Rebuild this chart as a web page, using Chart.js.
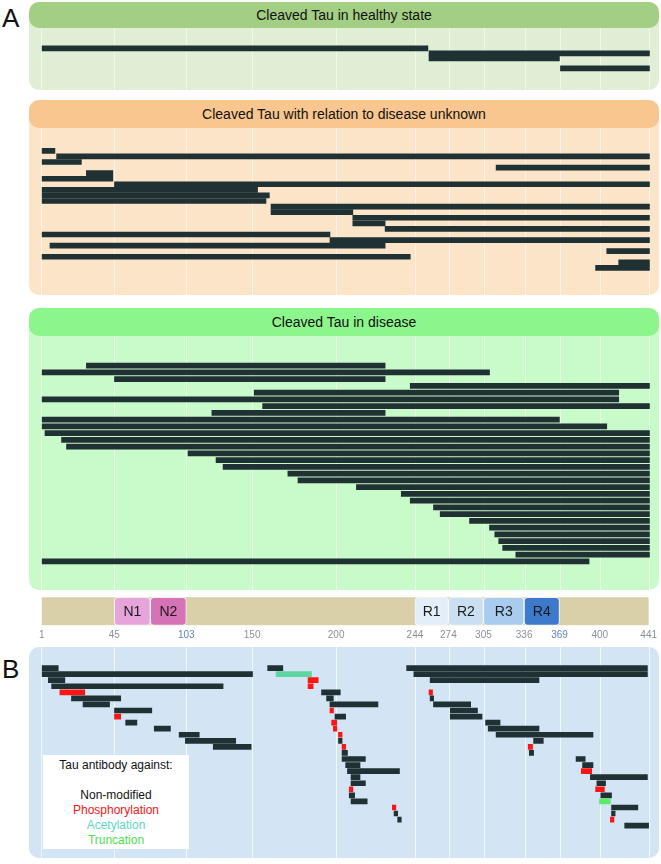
<!DOCTYPE html>
<html>
<head>
<meta charset="utf-8">
<title>Cleaved Tau fragments</title>
<script src="https://cdn.jsdelivr.net/npm/chart.js@4.4.1/dist/chart.umd.min.js"></script>
<style>
  body { margin: 0; background: #fff; }
  #page { position: relative; width: 661px; height: 864px; overflow: hidden; font-family: 'Liberation Sans', Arial, sans-serif; color: #111; }
  .box { position: absolute; left: 29px; width: 630px; border-radius: 10px; }
  .hdr { position: absolute; left: 0; right: 0; top: 0; border-radius: 10px; text-align: center; font-size: 14px; }
  .tag { position: absolute; left: 2px; font-size: 26px; line-height: 26px; }
  canvas { position: absolute; left: 0; }
  #legend { position: absolute; left: 43px; top: 755px; width: 146px; height: 94px; box-sizing: border-box; padding-top: 2.5px;
            background: #fff; text-align: center; font-size: 12px; line-height: 15px; }
</style>
</head>
<body>
<div id="page">
  <div class="tag" style="top:4.7px">A</div>
  <div class="box" style="top:2px;height:88px;background:#e1eed6">
    <div class="hdr" style="height:26px;line-height:26px;background:#a3cf84">Cleaved Tau in healthy state</div>
  </div>
  <div class="box" style="top:100px;height:195px;background:#fce4c8">
    <div class="hdr" style="height:28px;line-height:28px;background:#f8c68e">Cleaved Tau with relation to disease unknown</div>
  </div>
  <div class="box" style="top:308px;height:282px;background:#c9fac9">
    <div class="hdr" style="height:28px;line-height:28px;background:#8cf68c">Cleaved Tau in disease</div>
  </div>
  <canvas id="healthy" width="661" height="62" style="top:28px"></canvas>
  <canvas id="unknown" width="661" height="167" style="top:128px"></canvas>
  <canvas id="disease" width="661" height="254" style="top:336px"></canvas>
  <canvas id="domains" width="661" height="52" style="top:594px"></canvas>

  <div class="tag" style="top:656.3px">B</div>
  <div class="box" style="top:647px;height:211px;background:#d3e4f5"></div>
  <canvas id="antibodies" width="661" height="211" style="top:647px"></canvas>
  <div id="legend">Tau antibody against:<br><br>Non-modified<br><span style="color:#f21616">Phosphorylation</span><br><span style="color:#62d6c6">Acetylation</span><br><span style="color:#4fde4f">Truncation</span></div>
</div>

<script>
// ---- データ (残基番号) ----
const TICK_VALUES = [1, 45, 103, 150, 200, 244, 274, 305, 336, 369, 400, 441];

const DOMAIN_NAMES = ['N1', 'N2', 'R1', 'R2', 'R3', 'R4'];
const DOMAIN_START = [45, 74, 244, 274, 305, 336];
const DOMAIN_END = [74, 103, 274, 305, 336, 369];

// 健常状態での断片
const HEALTHY_START = [1, 256, 256, 369];
const HEALTHY_END = [255, 441, 368, 441];
const HEALTHY_ROW = [0, 1, 2, 4];

// 疾患との関係が不明な断片 (1行に1本)
const UNKNOWN_START = [1, 10, 1, 314, 28, 1, 45, 1, 1, 1, 161, 161, 209, 209, 227, 1, 196, 6, 405, 1, 415, 396];
const UNKNOWN_END = [9, 441, 25, 441, 44, 44, 441, 153, 160, 158, 441, 209, 441, 227, 441, 196, 441, 227, 441, 241, 441, 441];

// 疾患での断片 (1行に1本)
const DISEASE_START = [28, 1, 45, 241, 151, 1, 156, 121, 1, 1, 3, 13, 16, 104, 124, 129, 171, 177, 211, 236,
  241, 260, 266, 292, 309, 313, 316, 319, 329, 1];
const DISEASE_END = [227, 309, 227, 441, 415, 415, 441, 227, 368, 405, 441, 441, 441, 441, 441, 441, 441, 441, 441, 441,
  441, 441, 441, 441, 441, 441, 441, 441, 441, 391];

// B: 抗体のエピトープ (non / phos / acet / trunc)
const B_START = [
  1, 1, 5, 7, 12, 19, 26, 45, 45, 54, 77, 97, 102, 122,
  159, 164, 183, 183, 191, 194, 196, 196, 199, 197, 198, 201, 201, 203, 203, 203, 205, 206, 208, 208, 207, 207, 208, 231, 232, 234,
  239, 243, 257, 256, 257, 260, 275, 275, 306, 308, 314, 344, 339, 340, 381, 386, 385, 392, 397, 396, 400, 399, 409, 409, 408, 420,
];
const B_END = [
  11, 150, 15, 129, 27, 50, 42, 75, 50, 63, 90, 112, 138, 149,
  168, 185, 189, 186, 202, 198, 223, 198, 205, 200, 200, 203, 203, 205, 206, 216, 213, 235, 213, 216, 209, 210, 217, 233, 234, 236,
  439, 439, 349, 259, 260, 293, 299, 303, 317, 349, 394, 353, 343, 344, 388, 394, 393, 439, 404, 403, 409, 408, 431, 412, 411, 440,
];
const B_ROW = [
  0, 1, 2, 3, 4, 5, 6, 7, 8, 9, 10, 11, 12, 13,
  0, 1, 2, 3, 4, 5, 6, 7, 8, 9, 10, 11, 12, 13, 14, 15, 16, 17, 18, 19, 20, 21, 22, 23, 24, 25,
  0, 1, 2, 4, 5, 6, 7, 8, 9, 10, 11, 12, 13, 14, 15, 16, 17, 18, 19, 20, 21, 22, 23, 24, 25, 26,
];
const B_KIND = [
  'non', 'non', 'non', 'non', 'phos', 'non', 'non', 'non', 'phos', 'non', 'non', 'non', 'non', 'non',
  'non', 'acet', 'phos', 'phos', 'non', 'non', 'non', 'phos', 'non', 'phos', 'phos', 'phos', 'non', 'phos', 'non', 'non',
  'non', 'non', 'non', 'non', 'phos', 'non', 'non', 'phos', 'non', 'non',
  'non', 'non', 'non', 'phos', 'non', 'non', 'non', 'non', 'non', 'non', 'non', 'non', 'phos', 'non', 'non', 'non',
  'phos', 'non', 'non', 'phos', 'non', 'trunc', 'non', 'non', 'phos', 'non',
];

// ---- スタイル ----
const BAR_COLOR = '#1f3133';
const KIND_COLORS = { non: BAR_COLOR, phos: '#ff1414', acet: '#5ed6a2', trunc: '#5cea6a' };
const DOMAIN_COLORS = ['#e7a4da', '#d672b6', '#e3eef9', '#cbdff3', '#a8cbee', '#3e7acc'];

Chart.defaults.font.family = "'Liberation Sans', Arial, sans-serif";
Chart.defaults.animation = false;
Chart.defaults.plugins.legend.display = false;
Chart.defaults.plugins.tooltip.enabled = false;

// 図の残基軸は模式的で目盛間隔が等しくないので、目盛ごとの相対位置で区分線形に写す
const AXIS_STOPS = [0, 0.1197, 0.2383, 0.3467, 0.4851, 0.6149, 0.6700, 0.7278, 0.7948, 0.8531, 0.9194, 1];

class ResidueScale extends Chart.LinearScale {
  getPixelForValue(value) {
    const n = TICK_VALUES.length;
    const v = Math.min(Math.max(+value, TICK_VALUES[0]), TICK_VALUES[n - 1]);
    let i = 0;
    while (i < n - 2 && v > TICK_VALUES[i + 1]) i++;
    const t = (v - TICK_VALUES[i]) / (TICK_VALUES[i + 1] - TICK_VALUES[i]);
    return this.getPixelForDecimal(AXIS_STOPS[i] + t * (AXIS_STOPS[i + 1] - AXIS_STOPS[i]));
  }

  getValueForPixel(pixel) {
    const d = this.getDecimalForPixel(pixel);
    let i = 0;
    while (i < AXIS_STOPS.length - 2 && d > AXIS_STOPS[i + 1]) i++;
    const t = (d - AXIS_STOPS[i]) / (AXIS_STOPS[i + 1] - AXIS_STOPS[i]);
    return TICK_VALUES[i] + t * (TICK_VALUES[i + 1] - TICK_VALUES[i]);
  }
}
ResidueScale.id = 'residue';
ResidueScale.defaults = Chart.LinearScale.defaults;
Chart.register(ResidueScale);

const PAD_X = { left: 41.7, right: 11.2 };

function residueAxis(showLabels, gridColor) {
  return {
    type: 'residue',
    min: TICK_VALUES[0],
    max: TICK_VALUES[TICK_VALUES.length - 1],
    afterBuildTicks: (axis) => {
      axis.ticks = TICK_VALUES.map((v) => ({ value: v }));
    },
    border: { display: false },
    grid: { display: !showLabels, drawTicks: false, color: gridColor, lineWidth: 1 },
    ticks: {
      display: showLabels,
      autoSkip: false,
      maxRotation: 0,
      padding: 4,
      font: { size: 10 },
      color: (ctx) => (ctx.tick && (ctx.tick.value === 103 || ctx.tick.value === 369) ? '#6384bd' : '#8a8f96'),
      callback: (v) => String(v),
    },
  };
}

function toBars(starts, ends, rows) {
  return starts.map((s, i) => ({ x: [s, ends[i]], y: rows ? rows[i] : i }));
}

/**
 * 断片の横棒グラフ (1 区画分)
 */
function fragmentChart(id, bars, rowMin, rowMax, colors, gridColor, minLen) {
  return new Chart(document.getElementById(id), {
    type: 'bar',
    data: {
      datasets: [
        {
          data: bars,
          backgroundColor: colors,
          barThickness: 5,
          minBarLength: minLen || 0,
        },
      ],
    },
    options: {
      indexAxis: 'y',
      responsive: false,
      layout: { padding: { left: PAD_X.left, right: PAD_X.right, top: 0, bottom: 0 } },
      scales: {
        x: residueAxis(false, gridColor),
        y: { type: 'linear', reverse: true, min: rowMin, max: rowMax, display: false },
      },
    },
  });
}

const A_GRID = 'rgba(255,255,255,0.55)';
fragmentChart('healthy', toBars(HEALTHY_START, HEALTHY_END, HEALTHY_ROW), -2, 6.27, BAR_COLOR, A_GRID);
fragmentChart('unknown', toBars(UNKNOWN_START, UNKNOWN_END), -1.6, 23.36, BAR_COLOR, A_GRID);
fragmentChart('disease', toBars(DISEASE_START, DISEASE_END), -1.69, 30.56, BAR_COLOR, A_GRID);
fragmentChart('antibodies', toBars(B_START, B_END, B_ROW), -0.99, 28.85,
  B_KIND.map((k) => KIND_COLORS[k]), 'rgba(255,255,255,0.7)', 3.5);

// ドメイン名を各ボックスの中央に描く
const domainLabels = {
  id: 'domainLabels',
  afterDatasetsDraw(chart) {
    const meta = chart.getDatasetMeta(0);
    const { ctx } = chart;
    ctx.save();
    ctx.font = "14px 'Liberation Sans', Arial, sans-serif";
    ctx.fillStyle = '#1b1b1b';
    ctx.textAlign = 'center';
    ctx.textBaseline = 'middle';
    meta.data.forEach((bar, i) => {
      const { x, base, y } = bar.getProps(['x', 'base', 'y'], true);
      ctx.fillText(DOMAIN_NAMES[i], (x + base) / 2, y + 1);
    });
    ctx.restore();
  },
};

new Chart(document.getElementById('domains'), {
  type: 'bar',
  data: {
    datasets: [
      {
        data: toBars(DOMAIN_START, DOMAIN_END, DOMAIN_START.map(() => 0)),
        backgroundColor: DOMAIN_COLORS,
        borderColor: 'rgba(255,255,255,0.8)',
        borderWidth: 1,
        borderRadius: 4,
        borderSkipped: false,
        barThickness: 28,
        order: 1,
      },
      {
        data: [{ x: [TICK_VALUES[0], TICK_VALUES[TICK_VALUES.length - 1]], y: 0 }],
        backgroundColor: '#d9d0aa',
        borderRadius: 2,
        borderSkipped: false,
        barThickness: 28,
        order: 2,
      },
    ],
  },
  options: {
    indexAxis: 'y',
    responsive: false,
    grouped: false,
    layout: { padding: { left: PAD_X.left, right: PAD_X.right, top: 3.3, bottom: 0.7 } },
    scales: {
      x: residueAxis(true, 'transparent'),
      y: { type: 'linear', min: -0.5, max: 0.5, display: false },
    },
  },
  plugins: [domainLabels],
});
</script>
</body>
</html>
